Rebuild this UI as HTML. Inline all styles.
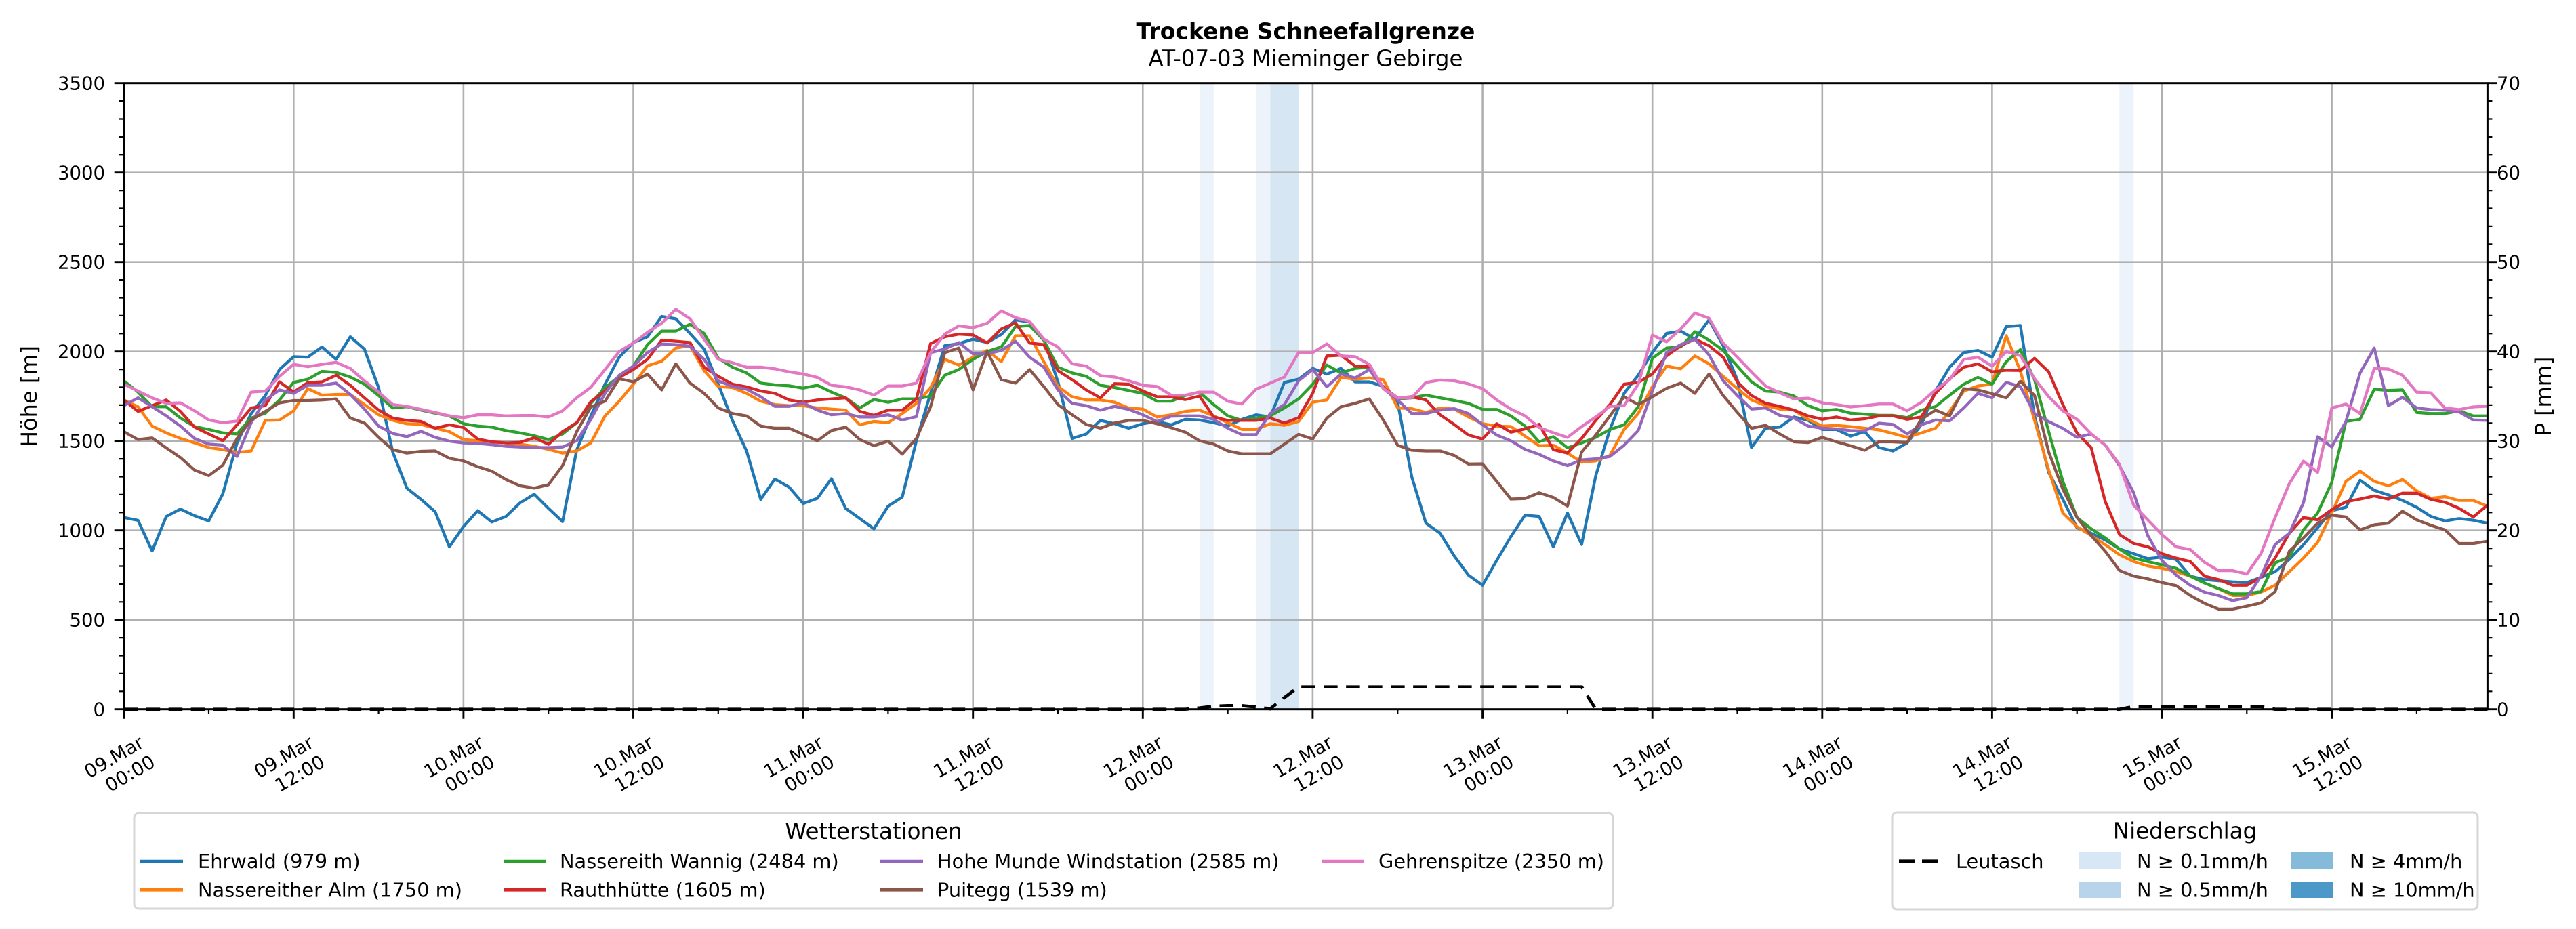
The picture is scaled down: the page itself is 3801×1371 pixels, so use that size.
<!DOCTYPE html>
<html><head><meta charset="utf-8"><style>
html,body{margin:0;padding:0;background:#fff;}
svg{display:block;}
text{font-family:"DejaVu Sans","Liberation Sans",sans-serif;fill:#000;}
</style></head><body>
<svg width="3801" height="1371" viewBox="0 0 3801 1371" xmlns="http://www.w3.org/2000/svg">
<rect x="0" y="0" width="3801" height="1371" fill="#fff"/>
<!-- precipitation spans -->
<rect x="1769.9" y="122.7" width="20.9" height="924" fill="#edf3fa"/>
<rect x="1853.4" y="122.7" width="20.9" height="924" fill="#edf3fa"/>
<rect x="1874.3" y="122.7" width="41.8" height="924" fill="#d6e6f3"/>
<rect x="3127.3" y="122.7" width="20.9" height="924" fill="#edf3fa"/>
<!-- grid -->
<path d="M433.3 122.7V1046.7M683.9 122.7V1046.7M934.5 122.7V1046.7M1185.1 122.7V1046.7M1435.7 122.7V1046.7M1686.3 122.7V1046.7M1936.9 122.7V1046.7M2187.6 122.7V1046.7M2438.2 122.7V1046.7M2688.8 122.7V1046.7M2939.4 122.7V1046.7M3190 122.7V1046.7M3440.6 122.7V1046.7M182.7 914.7H3670.4M182.7 782.7H3670.4M182.7 650.7H3670.4M182.7 518.7H3670.4M182.7 386.7H3670.4M182.7 254.7H3670.4" stroke="#b0b0b0" stroke-width="2.6" fill="none"/>
<!-- series -->
<g transform="translate(182.7,1046.7) scale(20.884,-0.264)" fill="none" stroke-width="4.3" stroke-linejoin="round">
<polyline vector-effect="non-scaling-stroke" stroke="#1f77b4" points="0,1072 1,1056 2,885 3,1078 4,1119 5,1082 6,1053 7,1205 8,1489 9,1653 10,1754 11,1899 12,1971 13,1968 14,2025 15,1956 16,2082 17,2013 18,1798 19,1438 20,1236 21,1173 22,1104 23,908 24,1021 25,1110 26,1047 27,1078 28,1154 29,1202 30,1123 31,1049 32,1450 33,1640 34,1817 35,1968 36,2050 37,2082 38,2196 39,2183 40,2101 41,2013 42,1817 43,1615 44,1444 45,1173 46,1287 47,1242 48,1150 49,1179 50,1289 51,1123 52,1066 53,1009 54,1135 55,1186 56,1501 57,1766 58,2032 59,2044 60,2069 61,2050 62,2095 63,2177 64,2164 65,2069 66,1830 67,1514 68,1539 69,1615 70,1596 71,1571 72,1596 73,1609 74,1590 75,1621 76,1617 77,1602 78,1583 79,1621 80,1646 81,1634 82,1827 83,1845 84,1905 85,1874 86,1905 87,1830 88,1830 89,1804 90,1716 91,1299 92,1040 93,984 94,857 95,750 96,693 97,832 98,965 99,1085 100,1078 101,908 102,1097 103,921 104,1306 105,1564 106,1766 107,1867 108,1994 109,2101 110,2114 111,2069 112,2177 113,2032 114,1842 115,1463 116,1571 117,1577 118,1634 119,1615 120,1564 121,1564 122,1527 123,1552 124,1463 125,1444 126,1489 127,1590 128,1779 129,1912 130,1994 131,2006 132,1968 133,2139 134,2145 135,1640 136,1324 137,1173 138,1015 139,984 140,946 141,896 142,870 143,842 144,851 145,838 146,744 147,725 148,718 149,712 150,708 151,737 152,769 153,838 154,920 155,1015 156,1110 157,1129 158,1280 159,1224 160,1198 161,1167 162,1129 163,1078 164,1053 165,1066 166,1057 167,1040"/>
<polyline vector-effect="non-scaling-stroke" stroke="#ff7f0e" points="0,1729 1,1691 2,1583 3,1545 4,1514 5,1489 6,1463 7,1451 8,1436 9,1444 10,1615 11,1617 12,1668 13,1792 14,1756 15,1760 16,1760 17,1703 18,1646 19,1615 20,1596 21,1592 22,1571 23,1552 24,1508 25,1501 26,1495 27,1489 28,1482 29,1470 30,1453 31,1432 32,1444 33,1489 34,1640 35,1722 36,1817 37,1920 38,1945 39,2019 40,2032 41,1893 42,1804 43,1798 44,1766 45,1722 46,1703 47,1697 48,1697 49,1684 50,1678 51,1672 52,1590 53,1609 54,1602 55,1653 56,1710 57,1798 58,1956 59,1924 60,1968 61,2006 62,1943 63,2088 64,2088 65,1943 66,1804 67,1747 68,1729 69,1729 70,1716 71,1684 72,1678 73,1634 74,1646 75,1665 76,1672 77,1640 78,1602 79,1564 80,1564 81,1596 82,1587 83,1609 84,1716 85,1729 86,1855 87,1845 88,1852 89,1842 90,1684 91,1680 92,1659 93,1684 94,1678 95,1634 96,1596 97,1583 98,1580 99,1527 100,1473 101,1476 102,1432 103,1381 104,1388 105,1419 106,1564 107,1653 108,1804 109,1918 110,1903 111,1975 112,1931 113,1861 114,1792 115,1729 116,1697 117,1678 118,1672 119,1621 120,1583 121,1587 122,1580 123,1571 124,1562 125,1542 126,1520 127,1545 128,1571 129,1665 130,1779 131,1807 132,1817 133,2088 134,1890 135,1615 136,1337 137,1097 138,1021 139,971 140,920 141,864 142,826 143,801 144,788 145,769 146,744 147,706 148,674 149,636 150,636 151,655 152,693 153,769 154,845 155,933 156,1097 157,1274 158,1331 159,1274 160,1249 161,1284 162,1221 163,1179 164,1188 165,1167 166,1167 167,1135"/>
<polyline vector-effect="non-scaling-stroke" stroke="#2ca02c" points="0,1836 1,1773 2,1691 3,1691 4,1628 5,1580 6,1564 7,1545 8,1539 9,1628 10,1655 11,1729 12,1827 13,1845 14,1889 15,1883 16,1857 17,1817 18,1754 19,1684 20,1691 21,1672 22,1655 23,1640 24,1596 25,1583 26,1577 27,1558 28,1545 29,1529 30,1508 31,1539 32,1602 33,1710 34,1798 35,1861 36,1918 37,2038 38,2114 39,2114 40,2152 41,2101 42,1962 43,1912 44,1880 45,1823 46,1813 47,1808 48,1795 49,1811 50,1773 51,1741 52,1684 53,1732 54,1716 55,1735 56,1735 57,1750 58,1867 59,1899 60,1956 61,2000 62,2025 63,2139 64,2145 65,2063 66,1912 67,1880 68,1861 69,1811 70,1798 71,1782 72,1766 73,1722 74,1722 75,1754 76,1773 77,1703 78,1640 79,1615 80,1627 81,1640 82,1684 83,1735 84,1817 85,1924 86,1880 87,1905 88,1912 89,1792 90,1735 91,1741 92,1756 93,1741 94,1726 95,1710 96,1676 97,1676 98,1640 99,1583 100,1495 101,1524 102,1461 103,1489 104,1520 105,1564 106,1590 107,1691 108,1962 109,2019 110,2025 111,2110 112,2063 113,2006 114,1918 115,1830 116,1779 117,1773 118,1751 119,1697 120,1668 121,1676 122,1655 123,1650 124,1643 125,1643 126,1630 127,1672 128,1691 129,1756 130,1817 131,1855 132,1817 133,1943 134,2010 135,1842 136,1552 137,1274 138,1072 139,1009 140,958 141,896 142,845 143,826 144,807 145,788 146,744 147,706 148,674 149,645 150,645 151,658 152,819 153,851 154,1003 155,1097 156,1268 157,1609 158,1621 159,1789 160,1782 161,1785 162,1659 163,1653 164,1653 165,1668 166,1640 167,1640"/>
<polyline vector-effect="non-scaling-stroke" stroke="#d62728" points="0,1729 1,1665 2,1697 3,1729 4,1665 5,1577 6,1539 7,1501 8,1590 9,1684 10,1697 11,1830 12,1773 13,1826 14,1830 15,1867 16,1811 17,1741 18,1672 19,1628 20,1615 21,1609 22,1571 23,1590 24,1575 25,1511 26,1495 27,1489 28,1492 29,1518 30,1481 31,1552 32,1602 33,1720 34,1779 35,1855 36,1899 37,1956 38,2063 39,2057 40,2050 41,1912 42,1861 43,1817 44,1802 45,1779 46,1766 47,1729 48,1716 49,1729 50,1735 51,1741 52,1665 53,1643 54,1672 55,1672 56,1735 57,2044 58,2082 59,2097 60,2092 61,2047 62,2126 63,2160 64,2047 65,2038 66,1893 67,1842 68,1785 69,1741 70,1820 71,1817 72,1779 73,1747 74,1747 75,1731 76,1751 77,1634 78,1615 79,1615 80,1615 81,1628 82,1600 83,1630 84,1766 85,1975 86,1979 87,1918 88,1915 89,1798 90,1741 91,1747 92,1729 93,1646 94,1592 95,1533 96,1511 97,1596 98,1549 99,1567 100,1593 101,1451 102,1432 103,1514 104,1615 105,1703 106,1817 107,1827 108,1874 109,1975 110,2032 111,2069 112,2032 113,1968 114,1830 115,1754 116,1710 117,1693 118,1672 119,1640 120,1621 121,1634 122,1617 123,1624 124,1640 125,1640 126,1621 127,1634 128,1766 129,1848 130,1912 131,1931 132,1886 133,1895 134,1894 135,1962 136,1886 137,1703 138,1545 139,1463 140,1160 141,977 142,927 143,908 144,870 145,845 146,826 147,744 148,725 149,693 150,693 151,737 152,845 153,984 154,1072 155,1059 156,1116 157,1160 158,1175 159,1192 160,1175 161,1208 162,1208 163,1173 164,1157 165,1123 166,1075 167,1141"/>
<polyline vector-effect="non-scaling-stroke" stroke="#9467bd" points="0,1697 1,1741 2,1691 3,1640 4,1583 5,1514 6,1482 7,1476 8,1413 9,1602 10,1729 11,1785 12,1766 13,1811 14,1811 15,1823 16,1760 17,1678 18,1583 19,1542 20,1524 21,1554 22,1520 23,1499 24,1489 25,1486 26,1479 27,1470 28,1466 29,1463 30,1463 31,1466 32,1501 33,1620 34,1766 35,1867 36,1918 37,1994 38,2042 39,2038 40,2029 41,1956 42,1836 43,1804 44,1789 45,1747 46,1693 47,1693 48,1713 49,1672 50,1646 51,1653 52,1634 53,1634 54,1646 55,1617 56,1636 57,1994 58,2013 59,2050 60,1987 61,1987 62,2006 63,2057 64,1968 65,1912 66,1785 67,1710 68,1697 69,1672 70,1693 71,1676 72,1646 73,1609 74,1638 75,1640 76,1640 77,1621 78,1571 79,1535 80,1535 81,1653 82,1703 83,1836 84,1899 85,1802 86,1874 87,1852 88,1899 89,1792 90,1729 91,1653 92,1653 93,1672 94,1680 95,1653 96,1590 97,1533 98,1501 99,1453 100,1425 101,1388 102,1362 103,1394 104,1400 105,1413 106,1476 107,1558 108,1779 109,1994 110,2038 111,2069 112,1981 113,1836 114,1754 115,1678 116,1684 117,1643 118,1628 119,1583 120,1571 121,1567 122,1558 123,1555 124,1599 125,1592 126,1539 127,1590 128,1617 129,1612 130,1684 131,1766 132,1741 133,1827 134,1804 135,1653 136,1608 137,1570 138,1520 139,1539 140,1476 141,1362 142,1211 143,971 144,832 145,750 146,693 147,655 148,636 149,607 150,624 151,744 152,921 153,984 154,1154 155,1524 156,1466 157,1609 158,1880 159,2019 160,1697 161,1744 162,1684 163,1675 164,1672 165,1662 166,1617 167,1615"/>
<polyline vector-effect="non-scaling-stroke" stroke="#8c564b" points="0,1552 1,1508 2,1517 3,1461 4,1407 5,1337 6,1306 7,1365 8,1514 9,1617 10,1665 11,1713 12,1726 13,1726 14,1729 15,1735 16,1628 17,1600 18,1520 19,1451 20,1432 21,1442 22,1444 23,1403 24,1388 25,1356 26,1331 27,1284 28,1249 29,1236 30,1255 31,1362 32,1552 33,1690 34,1722 35,1848 36,1830 37,1874 38,1785 39,1931 40,1823 41,1766 42,1684 43,1653 44,1640 45,1583 46,1571 47,1571 48,1537 49,1501 50,1558 51,1577 52,1508 53,1473 54,1499 55,1426 56,1514 57,1691 58,1994 59,2019 60,1785 61,2000 62,1842 63,1823 64,1899 65,1804 66,1703 67,1646 68,1592 69,1571 70,1600 71,1615 72,1615 73,1596 74,1574 75,1549 76,1501 77,1482 78,1444 79,1428 80,1428 81,1428 82,1482 83,1537 84,1511 85,1628 86,1691 87,1710 88,1735 89,1615 90,1476 91,1448 92,1444 93,1444 94,1419 95,1371 96,1372 97,1274 98,1175 99,1178 100,1210 101,1184 102,1136 103,1438 104,1533 105,1640 106,1747 107,1703 108,1747 109,1794 110,1823 111,1766 112,1874 113,1754 114,1659 115,1571 116,1587 117,1539 118,1495 119,1491 120,1520 121,1495 122,1473 123,1448 124,1495 125,1495 126,1491 127,1621 128,1672 129,1640 130,1792 131,1785 132,1764 133,1741 134,1833 135,1754 136,1438 137,1230 138,1072 139,971 140,883 141,776 142,744 143,729 144,708 145,691 146,636 147,592 148,560 149,560 150,576 151,594 152,658 153,883 154,958 155,1040 156,1085 157,1075 158,1003 159,1031 160,1040 161,1107 162,1059 163,1028 164,1003 165,927 166,927 167,939"/>
<polyline vector-effect="non-scaling-stroke" stroke="#e377c2" points="0,1817 1,1779 2,1741 3,1710 4,1713 5,1668 6,1617 7,1602 8,1611 9,1773 10,1779 11,1861 12,1928 13,1915 14,1928 15,1939 16,1905 17,1836 18,1773 19,1703 20,1693 21,1676 22,1659 23,1640 24,1630 25,1646 26,1646 27,1640 28,1642 29,1642 30,1634 31,1668 32,1741 33,1800 34,1899 35,2000 36,2047 37,2107 38,2158 39,2236 40,2183 41,2069 42,1956 43,1937 44,1912 45,1912 46,1903 47,1886 48,1874 49,1855 50,1811 51,1802 52,1785 53,1756 54,1807 55,1807 56,1823 57,1994 58,2097 59,2143 60,2133 61,2158 62,2227 63,2189 64,2168 65,2069 66,2025 67,1931 68,1918 69,1865 70,1857 71,1836 72,1811 73,1804 74,1756 75,1756 76,1773 77,1773 78,1722 79,1706 80,1789 81,1823 82,1857 83,1994 84,1994 85,2042 86,1975 87,1971 88,1928 89,1792 90,1741 91,1741 92,1827 93,1840 94,1836 95,1819 96,1792 97,1729 98,1678 99,1640 100,1575 101,1546 102,1520 103,1580 104,1634 105,1693 106,1697 107,1817 108,2092 109,2054 110,2126 111,2215 112,2186 113,2047 114,1968 115,1886 116,1807 117,1769 118,1735 119,1739 120,1713 121,1703 122,1690 123,1697 124,1706 125,1706 126,1668 127,1716 128,1785 129,1842 130,1956 131,1968 132,1918 133,2000 134,1977 135,1848 136,1747 137,1668 138,1621 139,1539 140,1476 141,1369 142,1141 143,1059 144,977 145,908 146,893 147,822 148,775 149,775 150,756 151,870 152,1072 153,1261 154,1387 155,1324 156,1684 157,1706 158,1653 159,1905 160,1902 161,1867 162,1773 163,1769 164,1684 165,1675 166,1690 167,1694"/>
</g>
<!-- Leutasch dashed -->
<polyline fill="none" stroke="#000" stroke-width="4.7" stroke-dasharray="20.5 12.5" points="182.7,1046.7 1749,1046.7 1769.9,1044.7 1790.8,1042.1 1811.7,1041.4 1832.5,1041.4 1853.4,1043.4 1874.3,1046 1895.2,1029.5 1916.1,1013.7 2333.8,1013.7 2354.6,1046.7 3127.3,1046.7 3148.2,1042.7 3336.1,1042.7 3357,1046.7 3670.4,1046.7"/>
<!-- spines -->
<rect x="182.7" y="122.7" width="3487.7" height="924" fill="none" stroke="#000" stroke-width="3"/>
<!-- ticks -->
<path d="M182.7 1046.7v14M433.3 1046.7v14M683.9 1046.7v14M934.5 1046.7v14M1185.1 1046.7v14M1435.7 1046.7v14M1686.3 1046.7v14M1936.9 1046.7v14M2187.6 1046.7v14M2438.2 1046.7v14M2688.8 1046.7v14M2939.4 1046.7v14M3190 1046.7v14M3440.6 1046.7v14M182.7 1046.7h-14M182.7 914.7h-14M182.7 782.7h-14M182.7 650.7h-14M182.7 518.7h-14M182.7 386.7h-14M182.7 254.7h-14M182.7 122.7h-14M3670.4 1046.7h14M3670.4 914.7h14M3670.4 782.7h14M3670.4 650.7h14M3670.4 518.7h14M3670.4 386.7h14M3670.4 254.7h14M3670.4 122.7h14" stroke="#000" stroke-width="2.9" fill="none"/>
<path d="M308 1046.7v7M558.6 1046.7v7M809.2 1046.7v7M1059.8 1046.7v7M1310.4 1046.7v7M1561 1046.7v7M1811.6 1046.7v7M2062.3 1046.7v7M2312.9 1046.7v7M2563.5 1046.7v7M2814.1 1046.7v7M3064.7 1046.7v7M3315.3 1046.7v7M3565.9 1046.7v7M182.7 1020.3h-7M182.7 993.9h-7M182.7 967.5h-7M182.7 941.1h-7M182.7 888.3h-7M182.7 861.9h-7M182.7 835.5h-7M182.7 809.1h-7M182.7 756.3h-7M182.7 729.9h-7M182.7 703.5h-7M182.7 677.1h-7M182.7 624.3h-7M182.7 597.9h-7M182.7 571.5h-7M182.7 545.1h-7M182.7 492.3h-7M182.7 465.9h-7M182.7 439.5h-7M182.7 413.1h-7M182.7 360.3h-7M182.7 333.9h-7M182.7 307.5h-7M182.7 281.1h-7M182.7 228.3h-7M182.7 201.9h-7M182.7 175.5h-7M182.7 149.1h-7M3670.4 1020.3h7M3670.4 993.9h7M3670.4 967.5h7M3670.4 941.1h7M3670.4 888.3h7M3670.4 861.9h7M3670.4 835.5h7M3670.4 809.1h7M3670.4 756.3h7M3670.4 729.9h7M3670.4 703.5h7M3670.4 677.1h7M3670.4 624.3h7M3670.4 597.9h7M3670.4 571.5h7M3670.4 545.1h7M3670.4 492.3h7M3670.4 465.9h7M3670.4 439.5h7M3670.4 413.1h7M3670.4 360.3h7M3670.4 333.9h7M3670.4 307.5h7M3670.4 281.1h7M3670.4 228.3h7M3670.4 201.9h7M3670.4 175.5h7M3670.4 149.1h7" stroke="#000" stroke-width="2.2" fill="none"/>
<!-- y tick labels -->
<g font-size="27.5" text-anchor="end">
<text x="155" y="1056.7">0</text><text x="155" y="924.7">500</text><text x="155" y="792.7">1000</text><text x="155" y="660.7">1500</text><text x="155" y="528.7">2000</text><text x="155" y="396.7">2500</text><text x="155" y="264.7">3000</text><text x="155" y="132.7">3500</text>
</g>
<g font-size="27.5" text-anchor="start">
<text x="3684" y="1056.7">0</text><text x="3684" y="924.7">10</text><text x="3684" y="792.7">20</text><text x="3684" y="660.7">30</text><text x="3684" y="528.7">40</text><text x="3684" y="396.7">50</text><text x="3684" y="264.7">60</text><text x="3684" y="132.7">70</text>
</g>
<!-- x tick labels -->
<g font-size="27.5" text-anchor="end">
<g transform="translate(176.2,1131) rotate(-30)"><text x="47.8" y="-6.5">09.Mar</text><text x="47.8" y="26.5">00:00</text></g>
<g transform="translate(426.8,1131) rotate(-30)"><text x="47.8" y="-6.5">09.Mar</text><text x="47.8" y="26.5">12:00</text></g>
<g transform="translate(677.4,1131) rotate(-30)"><text x="47.8" y="-6.5">10.Mar</text><text x="47.8" y="26.5">00:00</text></g>
<g transform="translate(928,1131) rotate(-30)"><text x="47.8" y="-6.5">10.Mar</text><text x="47.8" y="26.5">12:00</text></g>
<g transform="translate(1178.6,1131) rotate(-30)"><text x="47.8" y="-6.5">11.Mar</text><text x="47.8" y="26.5">00:00</text></g>
<g transform="translate(1429.2,1131) rotate(-30)"><text x="47.8" y="-6.5">11.Mar</text><text x="47.8" y="26.5">12:00</text></g>
<g transform="translate(1679.8,1131) rotate(-30)"><text x="47.8" y="-6.5">12.Mar</text><text x="47.8" y="26.5">00:00</text></g>
<g transform="translate(1930.4,1131) rotate(-30)"><text x="47.8" y="-6.5">12.Mar</text><text x="47.8" y="26.5">12:00</text></g>
<g transform="translate(2181.1,1131) rotate(-30)"><text x="47.8" y="-6.5">13.Mar</text><text x="47.8" y="26.5">00:00</text></g>
<g transform="translate(2431.7,1131) rotate(-30)"><text x="47.8" y="-6.5">13.Mar</text><text x="47.8" y="26.5">12:00</text></g>
<g transform="translate(2682.3,1131) rotate(-30)"><text x="47.8" y="-6.5">14.Mar</text><text x="47.8" y="26.5">00:00</text></g>
<g transform="translate(2932.9,1131) rotate(-30)"><text x="47.8" y="-6.5">14.Mar</text><text x="47.8" y="26.5">12:00</text></g>
<g transform="translate(3183.5,1131) rotate(-30)"><text x="47.8" y="-6.5">15.Mar</text><text x="47.8" y="26.5">00:00</text></g>
<g transform="translate(3434.1,1131) rotate(-30)"><text x="47.8" y="-6.5">15.Mar</text><text x="47.8" y="26.5">12:00</text></g>
</g>
<!-- titles -->
<text x="1926.5" y="57.3" font-size="33" font-weight="bold" text-anchor="middle">Trockene Schneefallgrenze</text>
<text x="1926.5" y="97.3" font-size="32.5" text-anchor="middle">AT-07-03 Mieminger Gebirge</text>
<text transform="translate(54,585) rotate(-90)" font-size="32" text-anchor="middle">Höhe [m]</text>
<text transform="translate(3764,585) rotate(-90)" font-size="32" text-anchor="middle">P [mm]</text>
<!-- legend left -->
<rect x="198" y="1200" width="2182" height="141" rx="7" ry="7" fill="#fff" stroke="#d6d6d6" stroke-width="3"/>
<text x="1289" y="1238" font-size="32.5" text-anchor="middle">Wetterstationen</text>
<g stroke-width="4.6">
<line x1="207" y1="1271" x2="270" y2="1271" stroke="#1f77b4"/>
<line x1="207" y1="1313.3" x2="270" y2="1313.3" stroke="#ff7f0e"/>
<line x1="743" y1="1271" x2="805" y2="1271" stroke="#2ca02c"/>
<line x1="743" y1="1313.3" x2="805" y2="1313.3" stroke="#d62728"/>
<line x1="1299" y1="1271" x2="1362" y2="1271" stroke="#9467bd"/>
<line x1="1299" y1="1313.3" x2="1362" y2="1313.3" stroke="#8c564b"/>
<line x1="1950" y1="1271" x2="2012" y2="1271" stroke="#e377c2"/>
</g>
<g font-size="28.8">
<text x="292" y="1281">Ehrwald (979 m)</text>
<text x="292" y="1323.5">Nassereither Alm (1750 m)</text>
<text x="826" y="1281">Nassereith Wannig (2484 m)</text>
<text x="826" y="1323.5">Rauthhütte (1605 m)</text>
<text x="1383" y="1281">Hohe Munde Windstation (2585 m)</text>
<text x="1383" y="1323.5">Puitegg (1539 m)</text>
<text x="2034" y="1281">Gehrenspitze (2350 m)</text>
</g>
<!-- legend right -->
<rect x="2792" y="1199" width="864" height="143" rx="7" ry="7" fill="#fff" stroke="#d6d6d6" stroke-width="3"/>
<text x="3224" y="1237.5" font-size="32.5" text-anchor="middle">Niederschlag</text>
<line x1="2802" y1="1270.7" x2="2862" y2="1270.7" stroke="#000" stroke-width="4.7" stroke-dasharray="23 11"/>
<rect x="3067" y="1258" width="63" height="25" fill="#d8e7f5"/>
<rect x="3067" y="1301" width="63" height="24" fill="#b7d4ea"/>
<rect x="3381" y="1258" width="61" height="25" fill="#84bbdb"/>
<rect x="3381" y="1301" width="61" height="24" fill="#4b98c9"/>
<g font-size="28.8">
<text x="2886" y="1281">Leutasch</text>
<text x="3153" y="1281">N ≥ 0.1mm/h</text>
<text x="3153" y="1323.5">N ≥ 0.5mm/h</text>
<text x="3467" y="1281">N ≥ 4mm/h</text>
<text x="3467" y="1323.5">N ≥ 10mm/h</text>
</g>
</svg>
</body></html>
